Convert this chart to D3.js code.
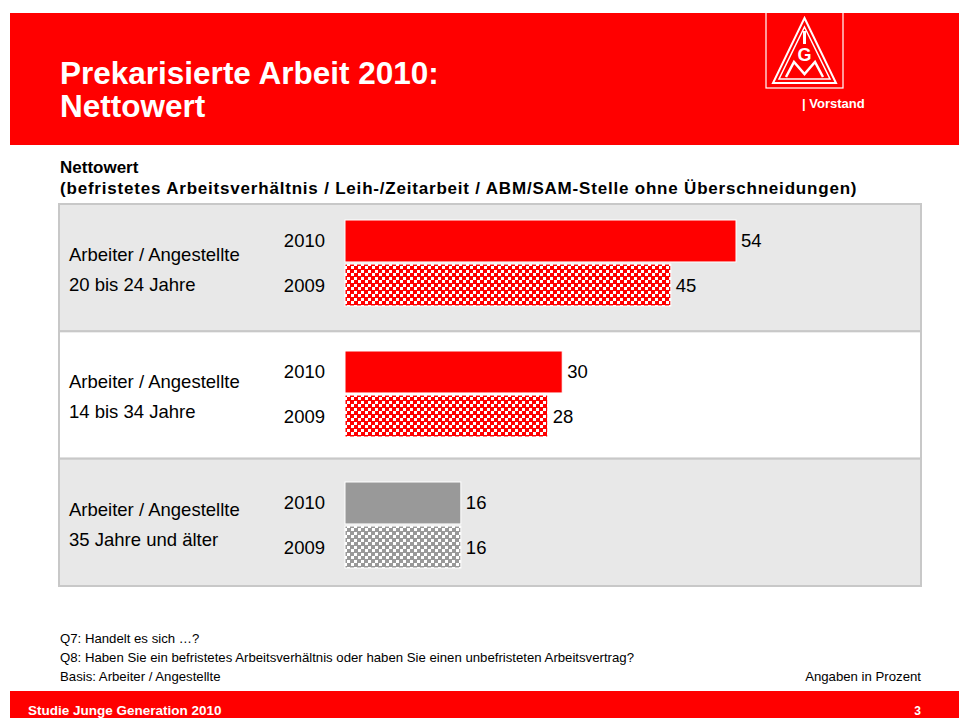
<!DOCTYPE html>
<html>
<head>
<meta charset="utf-8">
<script src="https://cdn.jsdelivr.net/npm/d3@7.9.0/dist/d3.min.js"></script>
<style>
  body { margin: 0; background: #fff; }
  svg { display: block; font-family: "Liberation Sans", Arial, sans-serif; }
</style>
</head>
<body>
<svg id="chart" width="959" height="718"></svg>
<script>
const groups = ['Arbeiter / Angestellte|20 bis 24 Jahre', 'Arbeiter / Angestellte|14 bis 34 Jahre', 'Arbeiter / Angestellte|35 Jahre und älter'];
const years = ['2010', '2009'];
const values2010 = [54, 30, 16];
const values2009 = [45, 28, 16];
const groupColors = ['#ff0000', '#ff0000', '#999999'];
const footnotes = ['Q7: Handelt es sich …?', 'Q8: Haben Sie ein befristetes Arbeitsverhältnis oder haben Sie einen unbefristeten Arbeitsvertrag?', 'Basis: Arbeiter / Angestellte'];

const svg = d3.select('#chart');
const red = '#ff0000';

// patterns for the 2009 bars
const defs = svg.append('defs');
function checker(id, color) {
  const p = defs.append('pattern').attr('id', id).attr('patternUnits', 'userSpaceOnUse')
    .attr('width', 7).attr('height', 7);
  p.append('rect').attr('width', 7).attr('height', 7).attr('fill', '#fff');
  p.append('rect').attr('width', 4).attr('height', 4).attr('fill', color);
  p.append('rect').attr('x', 4).attr('y', 4).attr('width', 3).attr('height', 3).attr('fill', color);
  p.append('rect').attr('x', 4).attr('y', 0).attr('width', 3).attr('height', 1).attr('fill', color);
  p.append('rect').attr('x', 0).attr('y', 4).attr('width', 1).attr('height', 3).attr('fill', color);
}
checker('chkRed', red);
checker('chkGrey', '#999999');

// header
svg.append('rect').attr('x', 10).attr('y', 13).attr('width', 949).attr('height', 132).attr('fill', red);
svg.append('text').attr('x', 60).attr('y', 84).attr('fill', '#fff').attr('font-size', 31.5).attr('font-weight', 'bold')
  .text('Prekarisierte Arbeit 2010:');
svg.append('text').attr('x', 60).attr('y', 117).attr('fill', '#fff').attr('font-size', 31.5).attr('font-weight', 'bold')
  .text('Nettowert');

// logo
const logo = svg.append('g');
logo.append('rect').attr('x', 766).attr('y', 8).attr('width', 77).attr('height', 80)
  .attr('fill', 'none').attr('stroke', '#fff').attr('stroke-width', 1.2);
logo.append('path').attr('d', 'M804.5,18 L836,83 L773,83 Z').attr('fill', 'none').attr('stroke', '#fff').attr('stroke-width', 2);
logo.append('path').attr('d', 'M804.5,27 L830,79 L779,79 Z').attr('fill', 'none').attr('stroke', '#fff').attr('stroke-width', 1.5);
logo.append('rect').attr('x', 803).attr('y', 31).attr('width', 3).attr('height', 13).attr('fill', '#fff');
logo.append('text').attr('x', 804.5).attr('y', 61).attr('text-anchor', 'middle').attr('fill', '#fff')
  .attr('font-size', 18).attr('font-weight', 'bold').text('G');
logo.append('path').attr('d', 'M786,77 L794,62 L804.5,74 L815,62 L823,77').attr('fill', 'none')
  .attr('stroke', '#fff').attr('stroke-width', 2.5);
svg.append('text').attr('x', 802).attr('y', 108).attr('fill', '#fff').attr('font-size', 13).attr('font-weight', 'bold')
  .text('| Vorstand');

// subtitle
svg.append('text').attr('x', 60).attr('y', 173).attr('font-size', 17).attr('font-weight', 'bold').text('Nettowert');
svg.append('text').attr('x', 60).attr('y', 194).attr('font-size', 17).attr('font-weight', 'bold')
  .attr('letter-spacing', 0.8)
  .text('(befristetes Arbeitsverhältnis / Leih-/Zeitarbeit / ABM/SAM-Stelle ohne Überschneidungen)');

// scales: panels and bar groups have their own spacing
const panel = d3.scaleBand().domain(groups).range([204, 586]).padding(0);
const barGroup = d3.scaleBand().domain(groups).range([220, 220 + 3 * 131]).padding(0);
const x = d3.scaleLinear().domain([0, 54]).range([345, 736]);
const sub = d3.scaleBand().domain(years).range([0, 86]).paddingInner(0.047);

const panels = svg.append('g').selectAll('g').data(groups).join('g')
  .attr('transform', d => `translate(0,${panel(d)})`);

panels.append('rect').attr('x', 59).attr('y', 0).attr('width', 862).attr('height', panel.bandwidth())
  .attr('fill', (d, i) => i % 2 === 0 ? '#e8e8e8' : '#fff')
  .attr('stroke', '#c8c8c8').attr('stroke-width', 2);

panels.append('text').attr('x', 69).attr('y', 57).attr('font-size', 18.5)
  .selectAll('tspan').data(d => d.split('|')).join('tspan')
  .attr('x', 69).attr('dy', (d, i) => i === 0 ? 0 : 30).text(d => d);

const bars = svg.append('g').selectAll('g').data(groups).join('g')
  .attr('transform', d => `translate(0,${barGroup(d)})`);

bars.each(function(g, i) {
  const band = d3.select(this);
  const rows = [
    { year: '2010', v: values2010[i], fill: groupColors[i] },
    { year: '2009', v: values2009[i], fill: groupColors[i] === red ? 'url(#chkRed)' : 'url(#chkGrey)' }
  ];
  rows.forEach(r => {
    const top = sub(r.year);
    const mid = top + sub.bandwidth() / 2;
    band.append('rect').attr('x', x(0)).attr('y', top).attr('width', x(r.v) - x(0)).attr('height', sub.bandwidth())
      .attr('fill', r.fill).attr('stroke', '#fff').attr('stroke-width', 1);
    band.append('text').attr('x', 325).attr('y', mid + 6.5).attr('text-anchor', 'end')
      .attr('font-size', 18.5).text(r.year);
    band.append('text').attr('x', x(r.v) + 5).attr('y', mid + 6.5)
      .attr('font-size', 18.5).text(r.v);
  });
});

// footnotes
svg.append('g').selectAll('text').data(footnotes).join('text')
  .attr('x', 60).attr('y', (d, i) => 643 + i * 19).attr('font-size', 13.2).text(d => d);
svg.append('text').attr('x', 921).attr('y', 681).attr('text-anchor', 'end').attr('font-size', 13.2).text('Angaben in Prozent');

// footer
svg.append('rect').attr('x', 10).attr('y', 691).attr('width', 949).attr('height', 27).attr('fill', red);
svg.append('text').attr('x', 28).attr('y', 715).attr('fill', '#fff').attr('font-size', 13.5).attr('font-weight', 'bold')
  .text('Studie Junge Generation 2010');
svg.append('text').attr('x', 921).attr('y', 715).attr('text-anchor', 'end').attr('fill', '#fff').attr('font-size', 12)
  .attr('font-weight', 'bold').text('3');
</script>
</body>
</html>
